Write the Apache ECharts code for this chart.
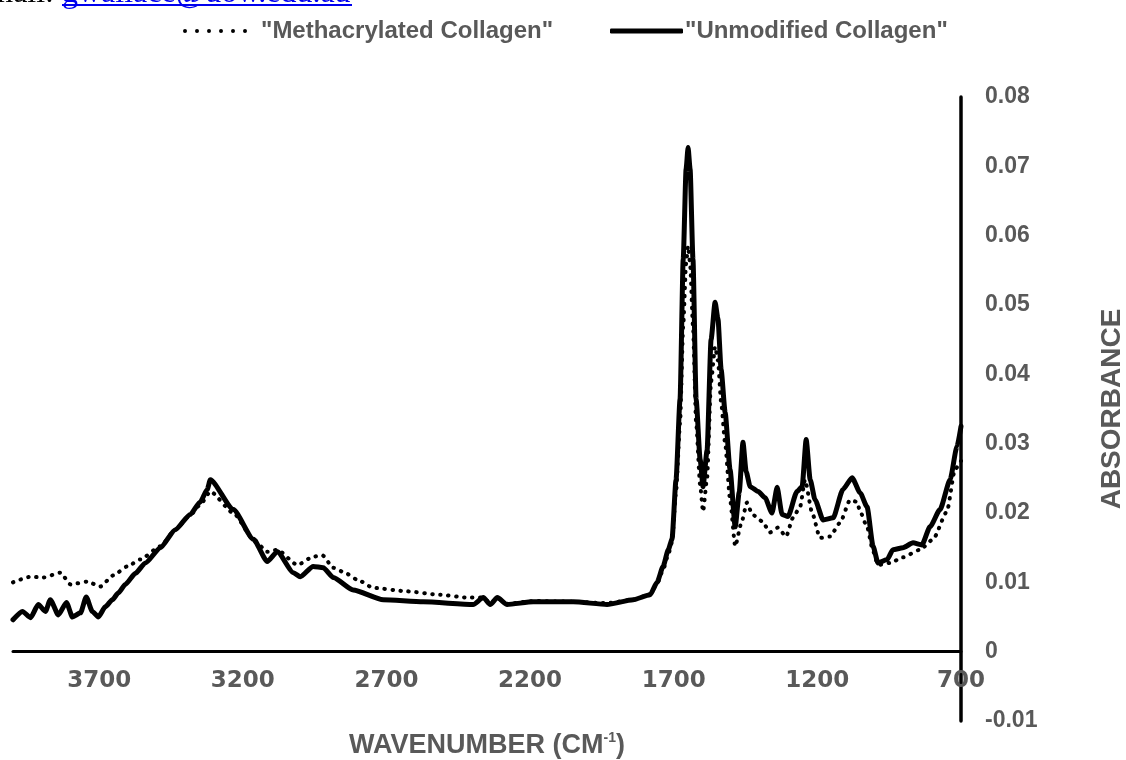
<!DOCTYPE html>
<html>
<head>
<meta charset="utf-8">
<script src="https://cdn.jsdelivr.net/npm/echarts@6/dist/echarts.min.js"></script>
<style>
  html, body { margin: 0; padding: 0; background: #fff; }
  #chart { width: 1126px; height: 760px; }
</style>
</head>
<body>
<div id="chart"></div>
<script>
// values (wavenumber in cm-1, absorbance)
var unmodWavenumber = [4000, 3967, 3939, 3912, 3887, 3870, 3842, 3814, 3793, 3765, 3745, 3724, 3703, 3678, 3654, 3633, 3609, 3574, 3539, 3487, 3435, 3383, 3348, 3324, 3313, 3233, 3163, 3115, 3080, 3024, 3000, 2955, 2920, 2885, 2816, 2711, 2572, 2398, 2363, 2339, 2314, 2280, 2189, 2050, 1932, 1841, 1782, 1758, 1737, 1719, 1706, 1692, 1678, 1667, 1657, 1650, 1643, 1633, 1622, 1608, 1598, 1584, 1570, 1556, 1546, 1535, 1521, 1504, 1486, 1472, 1459, 1448, 1434, 1406, 1382, 1358, 1340, 1323, 1302, 1271, 1253, 1239, 1225, 1208, 1180, 1145, 1111, 1079, 1051, 1027, 1006, 989, 957, 937, 902, 867, 836, 808, 773, 738, 714, 700];
var unmodAbs = [0.0046, 0.0058, 0.0049, 0.0068, 0.0058, 0.0075, 0.0053, 0.0071, 0.0050, 0.0056, 0.0079, 0.0058, 0.0050, 0.0065, 0.0075, 0.0085, 0.0097, 0.0113, 0.0128, 0.0150, 0.0176, 0.0198, 0.0216, 0.0234, 0.0248, 0.0205, 0.0162, 0.0130, 0.0144, 0.0114, 0.0108, 0.0123, 0.0121, 0.0107, 0.0089, 0.0075, 0.0072, 0.0068, 0.0078, 0.0068, 0.0078, 0.0068, 0.0072, 0.0072, 0.0068, 0.0075, 0.0082, 0.0100, 0.0123, 0.0147, 0.0162, 0.0248, 0.0364, 0.0566, 0.0696, 0.0727, 0.0696, 0.0566, 0.0364, 0.0277, 0.0238, 0.0290, 0.0450, 0.0504, 0.0480, 0.0407, 0.0345, 0.0263, 0.0180, 0.0230, 0.0302, 0.0260, 0.0238, 0.0231, 0.0222, 0.0200, 0.0237, 0.0198, 0.0195, 0.0231, 0.0238, 0.0306, 0.0248, 0.0219, 0.0190, 0.0193, 0.0234, 0.0251, 0.0229, 0.0209, 0.0152, 0.0128, 0.0133, 0.0147, 0.0150, 0.0157, 0.0154, 0.0180, 0.0205, 0.0248, 0.0296, 0.0325];

var methWavenumber = [4000, 3939, 3894, 3835, 3800, 3741, 3696, 3651, 3602, 3557, 3487, 3435, 3383, 3348, 3313, 3233, 3163, 3115, 3080, 3010, 2955, 2923, 2885, 2850, 2802, 2746, 2628, 2513, 2419, 2363, 2339, 2314, 2280, 2189, 2050, 1932, 1841, 1782, 1758, 1737, 1719, 1706, 1692, 1678, 1667, 1657, 1650, 1643, 1633, 1622, 1608, 1598, 1584, 1570, 1556, 1546, 1535, 1521, 1504, 1486, 1465, 1445, 1427, 1392, 1365, 1337, 1309, 1285, 1260, 1243, 1218, 1191, 1156, 1121, 1086, 1062, 1051, 1027, 1006, 989, 947, 902, 843, 797, 749, 721, 700];
var methAbs = [0.0100, 0.0108, 0.0107, 0.0114, 0.0097, 0.0101, 0.0094, 0.0110, 0.0123, 0.0133, 0.0152, 0.0176, 0.0197, 0.0212, 0.0231, 0.0200, 0.0162, 0.0144, 0.0147, 0.0125, 0.0137, 0.0139, 0.0121, 0.0115, 0.0104, 0.0092, 0.0087, 0.0082, 0.0078, 0.0078, 0.0070, 0.0077, 0.0069, 0.0073, 0.0072, 0.0070, 0.0075, 0.0083, 0.0098, 0.0118, 0.0140, 0.0158, 0.0230, 0.0330, 0.0470, 0.0560, 0.0585, 0.0560, 0.0470, 0.0330, 0.0240, 0.0202, 0.0250, 0.0390, 0.0440, 0.0420, 0.0360, 0.0300, 0.0220, 0.0152, 0.0185, 0.0215, 0.0198, 0.0188, 0.0172, 0.0179, 0.0166, 0.0193, 0.0209, 0.0248, 0.0200, 0.0164, 0.0166, 0.0186, 0.0219, 0.0216, 0.0202, 0.0180, 0.0145, 0.0125, 0.0128, 0.0136, 0.0147, 0.0162, 0.0202, 0.0263, 0.0275];

var xTicks = [700, 1200, 1700, 2200, 2700, 3200, 3700];
var seriesNames = ['"Methacrylated Collagen"', '"Unmodified Collagen"'];

function pairs(xs, ys) {
  return xs.map(function (x, i) { return [x, ys[i]]; });
}

var grey = '#595959';
var dotsIcon = 'path://M0,2a2,2 0 1,0 4,0a2,2 0 1,0 -4,0M12,2a2,2 0 1,0 4,0a2,2 0 1,0 -4,0M24,2a2,2 0 1,0 4,0a2,2 0 1,0 -4,0M36,2a2,2 0 1,0 4,0a2,2 0 1,0 -4,0M48,2a2,2 0 1,0 4,0a2,2 0 1,0 -4,0M60,2a2,2 0 1,0 4,0a2,2 0 1,0 -4,0';

var myChart = echarts.init(document.getElementById('chart'));
var option = {
  animation: false,
  backgroundColor: '#fff',
  grid: { left: 13, right: 165, top: 97, bottom: 39, containLabel: false, outerBoundsMode: 'none' },
  legend: [
    {
      data: [{ name: seriesNames[0], icon: dotsIcon }],
      left: 178, top: 14,
      itemWidth: 64, itemHeight: 4,
      textStyle: { color: grey, fontSize: 24, fontWeight: 'bold', fontFamily: 'Liberation Sans', padding: [0, 0, 0, 9] }
    },
    {
      data: [{ name: seriesNames[1], icon: 'roundRect' }],
      left: 605, top: 14,
      itemWidth: 73, itemHeight: 5,
      textStyle: { color: grey, fontSize: 24, fontWeight: 'bold', fontFamily: 'Liberation Sans', padding: [0, 0, 0, -3] }
    }
  ],
  graphic: [
    { type: 'text', x: 54, y: -22, style: { text: 'mail:', align: 'right', font: '32px "Liberation Serif"', fill: '#000' } },
    { type: 'text', x: 62, y: -22, style: { text: 'gwallace@uow.edu.au', font: '32px "Liberation Serif"', fill: '#0000ee' } },
    { type: 'line', shape: { x1: 62, y1: 5, x2: 352, y2: 5 }, style: { stroke: '#0000ee', lineWidth: 2 } }
  ],
  xAxis: {
    type: 'value',
    inverse: true,
    min: 700, max: 4000, interval: 500,
    offset: -69.4,
    name: 'WAVENUMBER (CM{sup|-1})',
    nameLocation: 'middle',
    nameGap: 80,
    nameTextStyle: {
      color: grey, fontSize: 27, fontWeight: 'bold', fontFamily: 'Liberation Sans',
      rich: { sup: { fontSize: 14, fontWeight: 'bold', color: grey, verticalAlign: 'top', padding: [0, 0, 12, 0] } }
    },
    axisLine: { onZero: false, lineStyle: { color: '#000', width: 3 } },
    axisTick: { show: false },
    splitLine: { show: false },
    axisLabel: {
      showMaxLabel: false,
      margin: 18,
      color: grey, fontSize: 23, fontWeight: 'bold', fontFamily: 'DejaVu Sans',
      formatter: function (v) { return xTicks.indexOf(v) >= 0 ? String(v) : ''; }
    }
  },
  yAxis: {
    type: 'value',
    position: 'right',
    min: -0.01, max: 0.08, interval: 0.01,
    name: 'ABSORBANCE',
    nameLocation: 'middle',
    nameRotate: 90,
    nameGap: 137,
    nameTextStyle: { color: grey, fontSize: 28, fontWeight: 'bold', fontFamily: 'Liberation Sans' },
    axisLine: { show: true, onZero: false, lineStyle: { color: '#000', width: 3.5 } },
    axisTick: { show: false },
    splitLine: { show: false },
    axisLabel: {
      margin: 24,
      color: grey, fontSize: 23, fontWeight: 'bold', fontFamily: 'Liberation Sans',
      formatter: function (v) { return String(Math.round(v * 100) / 100); }
    }
  },
  series: [
    {
      name: seriesNames[1],
      type: 'line',
      data: pairs(unmodWavenumber, unmodAbs),
      showSymbol: false, symbol: 'none',
      smooth: 0.2, smoothMonotone: 'x',
      itemStyle: { color: '#000' },
      lineStyle: { color: '#000', width: 5, cap: 'round', join: 'round' }
    },
    {
      name: seriesNames[0],
      type: 'line',
      data: pairs(methWavenumber, methAbs),
      showSymbol: false, symbol: 'none',
      smooth: 0.2, smoothMonotone: 'x',
      itemStyle: { color: '#000' },
      lineStyle: { color: '#000', width: 4, type: [0.5, 7.5], cap: 'round' }
    }
  ]
};
myChart.setOption(option);
</script>
</body>
</html>
